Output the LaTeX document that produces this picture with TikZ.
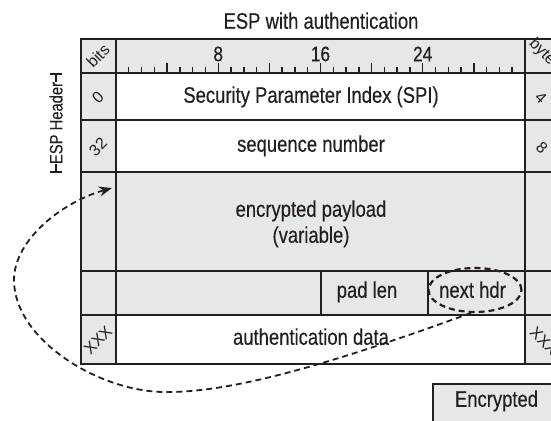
\documentclass[tikz,border=0pt]{standalone}
\usepackage{fontspec}
\setmainfont{Liberation Sans}[FakeStretch=0.82,FakeBold=0.35]
\newfontfamily\lblfont{Liberation Sans}
\usetikzlibrary{shapes.geometric,arrows.meta}
\definecolor{ink}{HTML}{231F20}
\definecolor{cellgray}{HTML}{E6E7E8}
\begin{document}
\begin{tikzpicture}[x=1pt,y=-1pt,
  txt/.style={font=\fontsize{22.5}{26}\selectfont, text=ink, inner sep=0pt, text height=16pt, text depth=4.5pt},
  tick/.style={font=\fontsize{21}{24}\selectfont, text=ink, inner sep=0pt},
  rotl/.style={font=\lblfont\fontsize{16}{18}\selectfont, text=ink, inner sep=0pt, rotate=45},
  rotr/.style={font=\lblfont\fontsize{16}{18}\selectfont, text=ink, inner sep=0pt, rotate=-45},
  outer/.style={draw=ink, line width=2pt},
  sep/.style={draw=ink, line width=2.6pt},
  vsep/.style={draw=ink, line width=2.2pt},
  conn/.style={draw=ink, line width=1.8pt, dash pattern=on 6pt off 4pt}]
\useasboundingbox (0,0) rectangle (551,420);
\clip (0,0) rectangle (551,420);
% fills
\fill[cellgray] (81,39) rectangle (570,73);
\fill[cellgray] (81,73) rectangle (116,363);
\fill[cellgray] (525,73) rectangle (570,363);
\fill[cellgray] (116,172) rectangle (525,315);
% ticks
\foreach \b in {1,...,31}{
  \pgfmathsetmacro\h{ifthenelse(mod(\b,4)==0,9,5)}
  \draw[ink, line width=1.4pt] (116+\b*12.78,72) -- ++(0,-\h);
}
% grid lines
\foreach \yy in {73,120,172,271,315}{\draw[sep] (81,\yy) -- (570,\yy);}
\draw[vsep] (116,39) -- (116,363);
\draw[vsep] (525,39) -- (525,363);
\draw[vsep] (321,271) -- (321,315);
\draw[vsep] (428,271) -- (428,315);
\draw[outer] (570,39) -- (81,39) -- (81,364) -- (570,364);
% title
\node[txt] (title) at (321,23) {ESP with authentication};
% tick labels
\node[tick] (t8) at (116+8*12.78,54) {8};
\node[tick] (t16) at (116+16*12.78,54) {16};
\node[tick] (t24) at (116+24*12.78,54) {24};
% left column labels
\node[rotl] (bits) at (98,56) {bits};
\node[rotl] (b0) at (98,97) {0};
\node[rotl] (b32) at (98,147) {32};
\node[rotl] (bx) at (98,340) {XXX};
% right column labels
\node[rotr] (bytes) at (545,55) {bytes};
\node[rotr] (y4) at (541,98) {4};
\node[rotr] (y8) at (542,148) {8};
\node[rotr] (yx) at (544,341) {XXX};
% row texts
\node[txt] (spi) at (311,97) {Security Parameter Index (SPI)};
\node[txt] (seq) at (311,146) {sequence number};
\node[txt] (pay1) at (311,211) {encrypted payload};
\node[txt] (pay2) at (311,237) {(variable)};
\node[txt] (pad) at (367,292) {pad len};
\node[txt] (nh) at (472.5,292) {next hdr};
\node[txt] (auth) at (311,339) {authentication data};
% ESP Header label
\node[font=\fontsize{18}{20}\selectfont, text=ink, inner sep=0pt, rotate=90] (esph) at (56,123) {ESP Header};
\draw[ink, line width=2pt] (50,74) -- (62,74);
\draw[ink, line width=1.6pt] (56,74) -- (56,82);
\draw[ink, line width=2pt] (50,172) -- (62,172);
\draw[ink, line width=1.6pt] (56,164) -- (56,172);
% encrypted legend
\draw[draw=ink, fill=cellgray, line width=2pt] (433,384) rectangle (600,440);
\node[txt] (enc) at (496.5,401) {Encrypted};
% ring and connector
\node[draw=ink, ellipse, line width=2.2pt, dash pattern=on 6pt off 4pt, minimum width=93pt, minimum height=44pt, inner sep=0pt] (ring) at (475,290) {};
\coordinate (tip) at (112,188);
\draw[conn, -{Stealth[length=13pt,width=10pt]}] (ring.-100) .. controls (355,355) and (240,393) .. (165,392) .. controls (100,392) and (14,340) .. (14,280) .. controls (14,240) and (62,202) .. (tip);
\end{tikzpicture}
\end{document}
